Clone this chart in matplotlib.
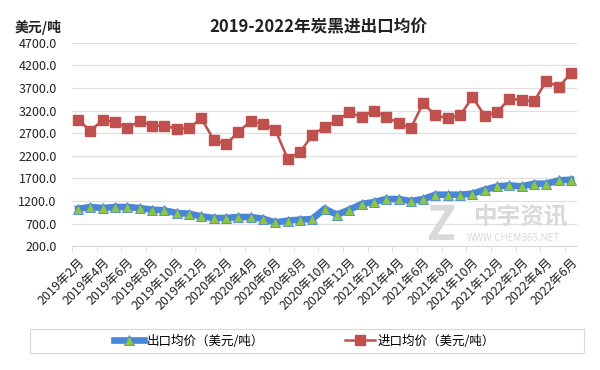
import matplotlib
matplotlib.use("Agg")
import matplotlib.pyplot as plt
from matplotlib.patches import Rectangle

plt.rcParams['font.family'] = ['Noto Sans CJK SC', 'DejaVu Sans']

# monthly, 2019-02 .. 2022-06
months = []
for y in range(2019, 2023):
    for m in range(1, 13):
        if (y == 2019 and m < 2) or (y == 2022 and m > 6):
            continue
        months.append(f"{y}年{m}月")

export_price = [1032, 1069, 1047, 1069, 1069, 1047, 1010, 996, 937, 922,
                863, 827, 827, 849, 849, 812, 731, 768, 790, 804,
                1032, 900, 1010, 1135, 1179, 1245, 1245, 1201, 1245, 1341,
                1341, 1341, 1363, 1451, 1525, 1547, 1525, 1584, 1584, 1657,
                1672]
import_price = [2995, 2752, 2995, 2951, 2811, 2973, 2863, 2863, 2796, 2811,
                3024, 2554, 2458, 2723, 2966, 2907, 2774, 2135, 2282, 2649,
                2840, 2980, 3164, 3054, 3200, 3054, 2921, 2811, 3362, 3090,
                3032, 3090, 3495, 3083, 3164, 3458, 3436, 3400, 3855, 3715,
                4024]

fig = plt.figure(figsize=(6, 3.7), dpi=100)
ax = fig.add_axes([0.12, 0.334, 0.842, 0.551])

# watermark (behind the data)
fig.text(0.712, 0.39, 'Z', fontsize=34, fontweight='bold', color='#d9d9d9',
         ha='left', va='center', zorder=0)
fig.text(0.79, 0.415, '中宇资讯', fontsize=17, fontweight='bold', color='#d9d9d9',
         ha='left', va='center', zorder=0)
fig.text(0.778, 0.358, 'WWW.CHEM365.NET', fontsize=7, color='#d9d9d9',
         ha='left', va='center', zorder=0)
ax.patch.set_alpha(0)

x = list(range(len(months)))
ax.plot(x, export_price, color='#4a86d8', lw=4.8, marker='^', ms=7,
        mfc='#8dc63f', mec='#4a86d8', mew=0.6, label='出口均价（美元/吨）', zorder=3)
ax.plot(x, import_price, color='#c0504d', lw=1.8, marker='s', ms=7.5,
        mfc='#c0504d', mec='#c0504d', label='进口均价（美元/吨）', zorder=3)

ax.set_ylim(200, 4700)
ax.set_yticks(range(200, 4701, 500))
ax.set_yticklabels([f"{v:.1f}" for v in range(200, 4701, 500)], fontsize=9, color='#222222')
ax.set_xlim(-0.5, len(months) - 0.5)
ax.set_xticks(x[::2])
ax.set_xticklabels(months[::2], rotation=45, ha='right', rotation_mode='anchor',
                   fontsize=9, color='#222222')
ax.set_xticks([i - 0.5 for i in range(0, len(months) + 1, 2)], minor=True)
ax.tick_params(axis='x', which='major', length=0, pad=7)
ax.tick_params(axis='x', which='minor', length=4, color='#d9d9d9')
ax.tick_params(axis='y', length=0, pad=11)
ax.grid(axis='y', color='#e0e0e0', lw=0.9)
ax.set_axisbelow(True)
for s in ['top', 'right', 'left']:
    ax.spines[s].set_visible(False)
ax.spines['bottom'].set_color('#d9d9d9')

fig.text(0.53, 0.927, '2019-2022年炭黑进出口均价', ha='center', va='center',
         fontsize=12, fontweight='bold', color='#222222')
fig.text(0.025, 0.927, '美元/吨', ha='left', va='center', fontsize=10,
         fontweight='bold', color='#222222')

fig.patches.append(Rectangle((30 / 600, 1 - 353 / 370), 554 / 600, 24 / 370,
                             transform=fig.transFigure, fill=False,
                             edgecolor='#d9d9d9', lw=0.8))
fig.legend(loc='center', bbox_to_anchor=(0.508, 1 - 341 / 370), ncol=2,
           frameon=False, fontsize=9, columnspacing=6.5, handlelength=2.4,
           handletextpad=0.2)

fig.savefig('out.png', dpi=100)
